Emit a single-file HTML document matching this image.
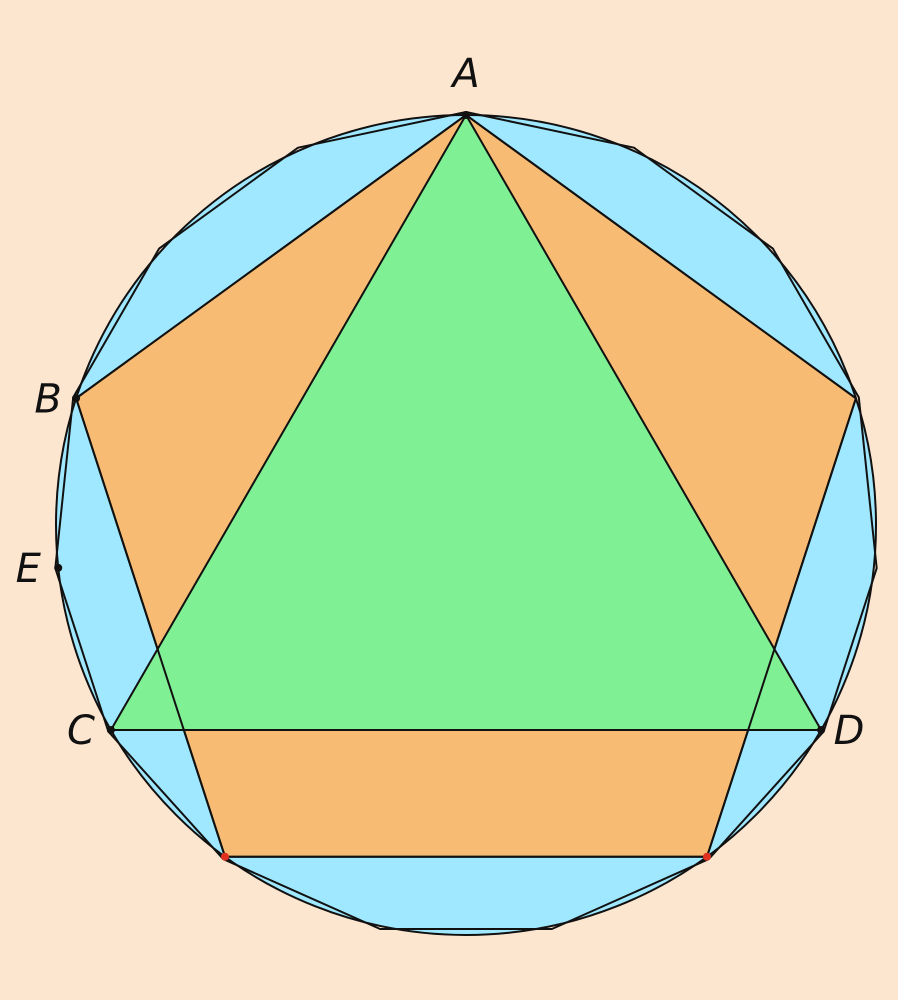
<!DOCTYPE html>
<html><head><meta charset="utf-8"><style>
html,body{margin:0;padding:0;background:#fde6d0;}
svg{display:block}
text{font-family:"DejaVu Sans","Liberation Sans",sans-serif;font-style:italic;font-size:40px;fill:#111}
</style></head><body>
<svg id="fig" width="898" height="1000" viewBox="0 0 898 1000"></svg>
<script>
const cx = 466, cy = 525, R = 410;
const polygonSides = [15, 5, 3];
const polygonNames = ['pentadecagon', 'pentagon', 'triangle'];
const polygonFills = ['#a0e8ff', '#f8bb73', '#80f095'];
const vertexLabels = ['A', 'B', 'E', 'C', 'D'];
const vertexAngles = [90, 162, 186, 210, 330];
const labelDx = [0, -28, -30, -30, 28];
const labelDy = [-28, 14, 14, 14, 14];
const ns = 'http://www.w3.org/2000/svg';
const svg = document.getElementById('fig');
function px(a, r){return cx + r*Math.cos(a*Math.PI/180);}
function py(a, r){return cy - r*Math.sin(a*Math.PI/180);}
function polyPoints(n, r){
  const pts=[];
  for(let k=0;k<n;k++){const a=90+360*k/n;pts.push(px(a,r).toFixed(1)+','+py(a,r).toFixed(1));}
  return pts.join(' ');
}
const circ = document.createElementNS(ns,'circle');
circ.setAttribute('cx',cx);circ.setAttribute('cy',cy);circ.setAttribute('r',R);
circ.setAttribute('fill','#a0e8ff');circ.setAttribute('stroke','#111');circ.setAttribute('stroke-width','2');


svg.appendChild(circ);
polygonSides.forEach((n,i)=>{
  const p=document.createElementNS(ns,'polygon');
  p.setAttribute('points',polyPoints(n, i===0?R+3:R));
  p.setAttribute('fill',i===0?'none':polygonFills[i]);p.setAttribute('stroke','#111');p.setAttribute('stroke-width','2');
  p.setAttribute('stroke-linejoin','round');
  
  
  svg.appendChild(p);
});
// outlines of pentagon on top
const outline=document.createElementNS(ns,'polygon');
outline.setAttribute('points',polyPoints(5,R));
outline.setAttribute('fill','none');outline.setAttribute('stroke','#111');outline.setAttribute('stroke-width','2');


svg.appendChild(outline);
[234,306].forEach(a=>{
  const d=document.createElementNS(ns,'circle');
  d.setAttribute('cx',px(a,R));d.setAttribute('cy',py(a,R));d.setAttribute('r','4');d.setAttribute('fill','#e03020');
  
  
  svg.appendChild(d);
});
vertexLabels.forEach((l,i)=>{
  const a=vertexAngles[i];
  const d=document.createElementNS(ns,'circle');
  d.setAttribute('cx',px(a,R));d.setAttribute('cy',py(a,R));d.setAttribute('r','4');d.setAttribute('fill','#111');
  
  
  svg.appendChild(d);
  const t=document.createElementNS(ns,'text');
  t.setAttribute('x',px(a,R)+labelDx[i]);t.setAttribute('y',py(a,R)+labelDy[i]);
  t.setAttribute('text-anchor','middle');
  t.textContent=l;
  
  
  svg.appendChild(t);
});
</script>
</body></html>
